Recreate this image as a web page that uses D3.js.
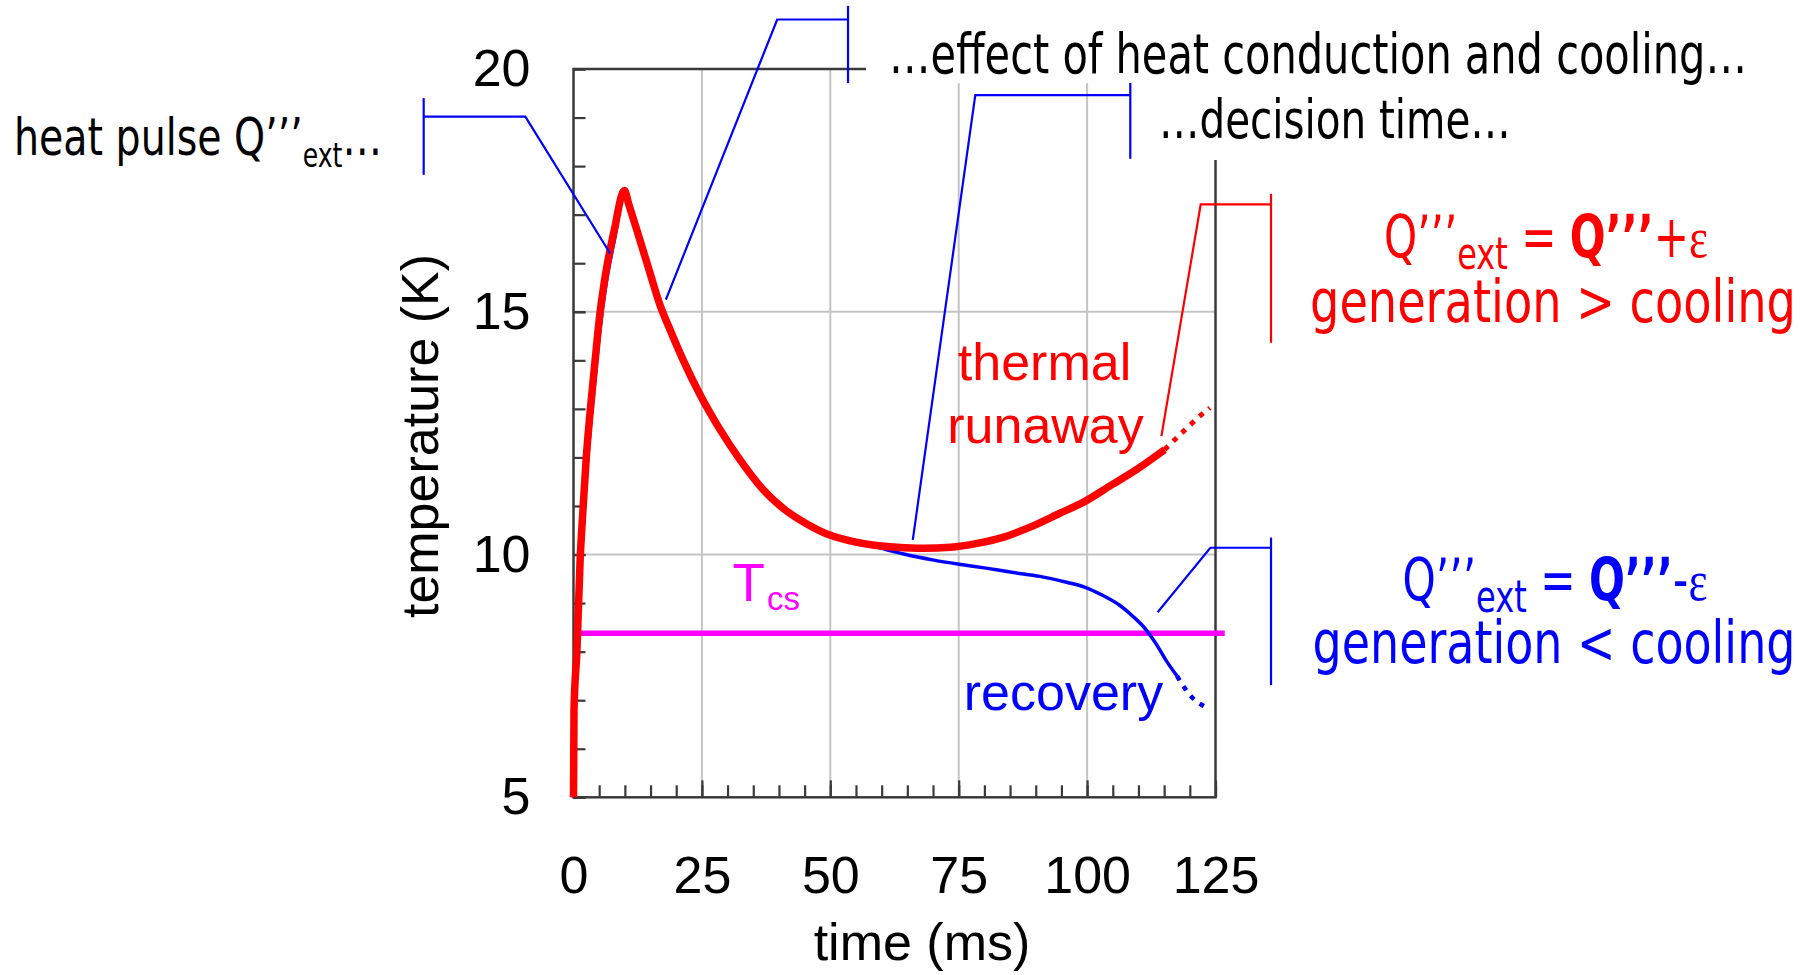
<!DOCTYPE html>
<html><head><meta charset="utf-8">
<script src="https://cdn.jsdelivr.net/npm/d3@7"></script>
<style>
html,body{margin:0;padding:0;background:#fff;}
svg{display:block;}
text{white-space:pre;}
</style></head><body>
<svg id="chart" width="1812" height="975"></svg>
<script>
// ---------------- data ----------------
const runawayTime = [0, 0.1, 0.66, 1.3, 1.85, 2.5, 3.17, 4.17, 5.16, 6.3, 7.9, 9.9, 10.8, 12.4, 14.86, 16.8, 18.6, 21.2, 24.7, 28.2, 32.5, 36.9, 41.2, 45.6, 49.9, 54.3, 58.6, 63.0, 68.2, 73.4, 78.6, 83.8, 89.0, 94.3, 99.5, 104.7, 109.9, 115.1];
const runawayTemp = [5.0, 6.8, 8.0, 9.91, 10.92, 12.02, 12.86, 13.96, 14.97, 15.81, 16.66, 17.5, 17.2, 16.66, 15.81, 15.15, 14.68, 14.04, 13.28, 12.63, 11.94, 11.34, 10.92, 10.62, 10.4, 10.27, 10.19, 10.15, 10.13, 10.15, 10.23, 10.36, 10.57, 10.83, 11.09, 11.43, 11.77, 12.16];
const runawayDotTime = [115.1, 117.7, 119.8, 121.7, 123.9];
const runawayDotTemp = [12.16, 12.43, 12.64, 12.83, 13.02];

const recoveryTime = [0, 0.1, 0.66, 1.3, 1.85, 2.5, 3.17, 4.17, 5.16, 6.3, 7.9, 9.9, 10.8, 12.4, 14.86, 16.8, 18.6, 21.2, 24.7, 28.2, 32.5, 36.9, 41.2, 45.6, 49.9, 54.3, 58.6, 62.0, 64.7, 69.9, 75.1, 80.3, 85.6, 90.8, 96.0, 99.5, 103.0, 106.4, 109.0, 111.5, 113.5, 115.5, 117.5];
const recoveryTemp = [5.0, 6.3, 7.6, 9.45, 10.5, 11.6, 12.5, 13.6, 14.65, 15.55, 16.45, 17.42, 17.25, 16.72, 15.88, 15.22, 14.73, 14.08, 13.32, 12.66, 11.97, 11.37, 10.94, 10.63, 10.41, 10.27, 10.17, 10.07, 10.0, 9.89, 9.80, 9.72, 9.63, 9.55, 9.43, 9.33, 9.16, 8.95, 8.72, 8.45, 8.15, 7.8, 7.5];
const recoveryDotTime = [117.5, 119.0, 120.6, 122.9];
const recoveryDotTemp = [7.5, 7.25, 7.04, 6.87];

const tcsTemp = 8.38;
const tcsTimeSpan = [0.6, 126.8];

const xTickLabels = [0, 25, 50, 75, 100, 125];
const xMinorTicks = d3.range(0, 126, 5);
const yTickLabels = [5, 10, 15, 20];
const yMinorTicks = d3.range(5, 21, 1);
const xGrid = [25, 50, 75, 100];
const yGrid = [10, 15];

// callout leaders, in data units (time ms, temperature K)
const calloutHeatBar = [[-29.17, 19.40], [-29.17, 17.82]];
const calloutHeatPath = [[-29.17, 19.02], [-9.38, 19.02], [7.15, 16.20]];
const calloutEffectBar = [[53.45, 21.30], [53.45, 19.71]];
const calloutEffectPath = [[17.99, 15.25], [39.66, 21.02], [53.45, 21.02]];
const calloutDecisionBar = [[108.41, 19.74], [108.41, 18.15]];
const calloutDecisionPath = [[66.06, 10.30], [78.23, 19.46], [108.41, 19.46]];
const calloutRunawayBar = [[135.81, 17.43], [135.81, 14.36]];
const calloutRunawayPath = [[114.47, 12.44], [122.12, 17.21], [135.81, 17.21]];
const calloutRecoveryBar = [[135.81, 10.35], [135.81, 7.31]];
const calloutRecoveryPath = [[113.73, 8.81], [124.0, 10.14], [135.81, 10.14]];

// ---------------- drawing ----------------
const svg = d3.select('#chart');
const x = d3.scaleLinear().domain([0, 125]).range([573.5, 1215.5]);
const y = d3.scaleLinear().domain([5, 20]).range([797.3, 69]);

const chartFont = '"Liberation Sans", Arial, Helvetica, sans-serif';
const noteFont = '"DejaVu Sans Condensed", "DejaVu Sans", sans-serif';
const frameCol = '#3a3a3a';

// grid
const g = svg.append('g');
g.selectAll('.vg').data(xGrid).join('line')
  .attr('x1', d => x(d)).attr('x2', d => x(d))
  .attr('y1', y(5)).attr('y2', y(20))
  .attr('stroke', '#c4c4c4').attr('stroke-width', 2);
g.selectAll('.hg').data(yGrid).join('line')
  .attr('y1', d => y(d)).attr('y2', d => y(d))
  .attr('x1', x(0)).attr('x2', x(125))
  .attr('stroke', '#c4c4c4').attr('stroke-width', 2);

// axes (ticks point inward)
const xMinorAxis = d3.axisBottom(x).tickValues(xMinorTicks).tickSize(-12).tickFormat('');
const xMajorAxis = d3.axisBottom(x).tickValues(xTickLabels).tickSize(-17).tickPadding(58.5).tickFormat(d3.format('d'));
const yMinorAxis = d3.axisLeft(y).tickValues(yMinorTicks).tickSize(-12).tickFormat('');
const yMajorAxis = d3.axisLeft(y).tickValues(yTickLabels).tickSize(-12).tickPadding(43).tickFormat(d3.format('d'));

function styleAxis(sel) {
  sel.select('.domain').remove();
  sel.selectAll('.tick line').attr('stroke', frameCol).attr('stroke-width', 2.2);
  sel.selectAll('.tick text').attr('fill', '#000').style('font-family', chartFont).style('font-size', '52px');
}
svg.append('g').attr('transform', `translate(0,${y(5)})`).call(xMinorAxis).call(styleAxis);
svg.append('g').attr('transform', `translate(0,${y(5)})`).call(xMajorAxis).call(styleAxis);
svg.append('g').attr('transform', `translate(${x(0)},0)`).call(yMinorAxis).call(styleAxis);
svg.append('g').attr('transform', `translate(${x(0)},0)`).call(yMajorAxis).call(styleAxis);

// frame
svg.append('rect')
  .attr('x', x(0)).attr('y', y(20))
  .attr('width', x(125) - x(0)).attr('height', y(5) - y(20))
  .attr('fill', 'none').attr('stroke', frameCol).attr('stroke-width', 2.5);

// axis titles
svg.append('text').text('time (ms)')
  .attr('x', 922).attr('y', 960).attr('text-anchor', 'middle')
  .style('font-family', chartFont).style('font-size', '52px').attr('fill', '#000');
svg.append('text').text('temperature (K)')
  .attr('transform', 'translate(438,436) rotate(-90)').attr('text-anchor', 'middle')
  .style('font-family', chartFont).style('font-size', '52px').attr('fill', '#000');

// T_cs line
svg.append('line')
  .attr('x1', x(tcsTimeSpan[0])).attr('x2', x(tcsTimeSpan[1]))
  .attr('y1', y(tcsTemp)).attr('y2', y(tcsTemp))
  .attr('stroke', '#ff00ff').attr('stroke-width', 5.5);

const line = d3.line().x(d => x(d[0])).y(d => y(d[1])).curve(d3.curveMonotoneX);
const zip = (a, b) => a.map((v, i) => [v, b[i]]);

// recovery (blue)
svg.append('path').datum(zip(recoveryTime, recoveryTemp)).attr('d', line)
  .attr('fill', 'none').attr('stroke', '#0000ff').attr('stroke-width', 3.5).attr('stroke-linejoin', 'round');
svg.append('path').datum(zip(recoveryDotTime, recoveryDotTemp)).attr('d', line)
  .attr('fill', 'none').attr('stroke', '#0000ff').attr('stroke-width', 4.5).attr('stroke-dasharray', '5,7');

// runaway (red)
svg.append('path').datum(zip(runawayTime, runawayTemp)).attr('d', line)
  .attr('fill', 'none').attr('stroke', '#ff0000').attr('stroke-width', 7.5).attr('stroke-linejoin', 'round');
svg.append('path').datum(zip(runawayDotTime, runawayDotTemp)).attr('d', line)
  .attr('fill', 'none').attr('stroke', '#ff0000').attr('stroke-width', 5).attr('stroke-dasharray', '5,7');

// callouts
const plain = d3.line().x(d => x(d[0])).y(d => y(d[1]));
function callout(bar, path, col) {
  svg.append('path').attr('d', plain(bar)).attr('fill', 'none').attr('stroke', col).attr('stroke-width', 2.2);
  svg.append('path').attr('d', plain(path)).attr('fill', 'none').attr('stroke', col).attr('stroke-width', 2.2);
}
callout(calloutHeatBar, calloutHeatPath, '#0000ff');
callout(calloutEffectBar, calloutEffectPath, '#0000ff');
callout(calloutDecisionBar, calloutDecisionPath, '#0000ff');
callout(calloutRunawayBar, calloutRunawayPath, '#ff0000');
callout(calloutRecoveryBar, calloutRecoveryPath, '#0000ff');

// white text boxes (as in the slide, they hide part of the frame)
svg.append('rect').attr('x', 866).attr('y', 0).attr('width', 905).attr('height', 83).attr('fill', '#fff');
svg.append('rect').attr('x', 1140).attr('y', 83).attr('width', 385).attr('height', 77).attr('fill', '#fff');

// chart labels
svg.append('text').attr('x', 1044.5).attr('y', 380.3).attr('text-anchor', 'middle')
  .style('font-family', chartFont).style('font-size', '52px').attr('fill', '#ff0000').text('thermal');
svg.append('text').attr('x', 1045.5).attr('y', 442.5).attr('text-anchor', 'middle')
  .style('font-family', chartFont).style('font-size', '52px').attr('fill', '#ff0000').text('runaway');
svg.append('text').attr('x', 1063.5).attr('y', 710).attr('text-anchor', 'middle')
  .style('font-family', chartFont).style('font-size', '52px').attr('fill', '#0000ff').text('recovery');
const tcs = svg.append('text').attr('x', 732.5).attr('y', 600.7)
  .style('font-family', chartFont).attr('fill', '#ff00ff');
tcs.append('tspan').style('font-size', '53px').text('T');
tcs.append('tspan').attr('dx', 2).attr('dy', 9.5).style('font-size', '33px').text('cs');

// annotation text helper: fits the text block to a given width (horizontal squeeze)
function note(cx, base, anchor, width, col, size, parts) {
  const grp = svg.append('g');
  const t = grp.append('text').attr('x', 0).attr('y', 0).attr('text-anchor', anchor)
    .style('font-family', noteFont).style('font-size', size + 'px').attr('fill', col);
  parts.forEach(p => {
    const s = t.append('tspan').text(p.t);
    if (p.size) s.style('font-size', p.size + 'px');
    if (p.dy) s.attr('dy', p.dy);
    if (p.bold) s.style('font-weight', 'bold');
    if (p.serif) s.style('font-family', '"Liberation Serif", "DejaVu Serif", serif');
  });
  const w = t.node().getBBox().width;
  grp.attr('transform', `translate(${cx},${base}) scale(${width / w},1)`);
}

note(14, 155, 'start', 368, '#000', 52, [
  {t: 'heat pulse Q’’’'}, {t: 'ext', size: 33, dy: 12}, {t: '…', dy: -12}
]);
note(889, 72.7, 'start', 858, '#000', 56, [{t: '…effect of heat conduction and cooling…'}]);
note(1159, 138.3, 'start', 352, '#000', 53, [{t: '…decision time…'}]);

note(1546, 256.5, 'middle', 324, '#ff0000', 58, [
  {t: 'Q’’’'}, {t: 'ext', size: 44, dy: 12}, {t: ' = ', dy: -12}, {t: 'Q’’’', bold: true}, {t: '+'}, {t: 'ε', serif: true, size: 56}
]);
note(1553, 321.7, 'middle', 486, '#ff0000', 59, [{t: 'generation > cooling'}]);
note(1555, 600, 'middle', 305, '#0000ff', 58, [
  {t: 'Q’’’'}, {t: 'ext', size: 44, dy: 12}, {t: ' = ', dy: -12}, {t: 'Q’’’', bold: true}, {t: '-'}, {t: 'ε', serif: true, size: 56}
]);
note(1554, 663.3, 'middle', 483, '#0000ff', 59, [{t: 'generation < cooling'}]);
</script>
</body></html>
